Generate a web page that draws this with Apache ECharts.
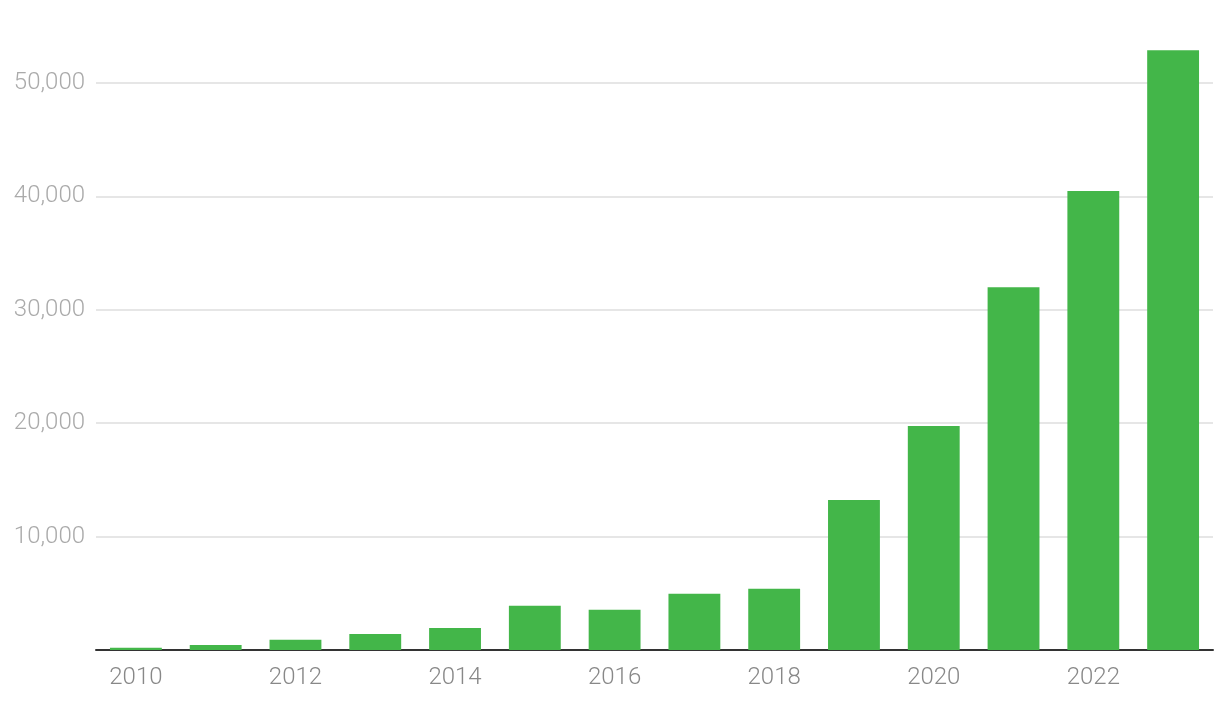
<!DOCTYPE html>
<html>
<head>
<meta charset="utf-8">
<script src="https://cdn.jsdelivr.net/npm/echarts@6/dist/echarts.min.js"></script>
<style>html,body{margin:0;padding:0;background:#fff;}#c{width:1220px;height:708px;}</style>
</head>
<body>
<div id="c"></div>
<script>
const years = ['2010','2011','2012','2013','2014','2015','2016','2017','2018','2019','2020','2021','2022','2023'];
const values = [200, 450, 900, 1400, 1950, 3900, 3550, 4950, 5400, 13230, 19750, 32000, 40480, 52900];
const yTicks = [0, 10000, 20000, 30000, 40000, 50000];

const chart = echarts.init(document.getElementById('c'));
chart.setOption({
  animation: false,
  grid: { left: 96, right: 7, top: 49, bottom: 58 },
  xAxis: {
    type: 'category',
    data: years,
    axisLine: { lineStyle: { color: '#333', width: 2 } },
    axisTick: { show: false },
    axisLabel: {
      interval: 1, color: '#888', fontSize: 24, fontFamily: 'Roboto', fontWeight: 300, margin: 16
    }
  },
  yAxis: {
    type: 'value',
    min: 0, max: 53000, interval: 10000,
    axisLine: { show: false },
    axisTick: { show: false },
    splitLine: { showMaxLine: false, lineStyle: { color: '#e6e6e6', width: 2 } },
    axisLabel: {
      showMaxLabel: false,
      color: '#aaa', fontSize: 24, fontFamily: 'Roboto', fontWeight: 300, margin: 11,
      formatter: v => (v === 0 || yTicks.indexOf(v) < 0) ? '' : v.toLocaleString('en-US')
    }
  },
  series: [{
    type: 'bar',
    data: values,
    barCategoryGap: '35%',
    itemStyle: { color: '#43b649' }
  }]
});
</script>
</body>
</html>
